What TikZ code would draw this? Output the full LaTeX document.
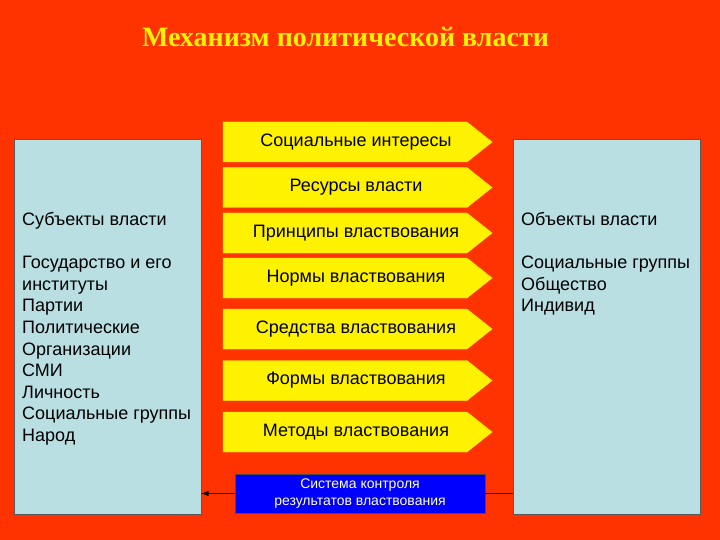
\documentclass[tikz,border=0pt]{standalone}
\usepackage{fontspec}
\setmainfont{Liberation Sans}
\newfontfamily\titlefont{Liberation Serif}
\usetikzlibrary{shapes.symbols}
\usetikzlibrary{arrows}
\usetikzlibrary{positioning}
\definecolor{bgred}{HTML}{FF3300}
\definecolor{panelblue}{HTML}{BADFE3}
\definecolor{ctrlblue}{HTML}{0000FF}
\definecolor{ctrltext}{HTML}{FFFFCC}

\begin{document}
\begin{tikzpicture}[x=1pt, y=-1pt,
    panel/.style={draw=black!65, fill=panelblue, minimum width=187pt, minimum height=375pt, inner sep=0pt},
    paneltext/.style={align=left, inner sep=0pt, anchor=north west, font=\fontsize{18}{21.6}\selectfont},
    stage/.style={signal, signal to=east, signal pointer angle=77, fill=yellow, draw=yellow, minimum width=269pt, minimum height=40pt, inner sep=0pt, font=\fontsize{18}{21.6}\selectfont, execute at begin node=\hspace*{22pt}},
    ctrl/.style={draw=black!70, fill=ctrlblue, text=ctrltext, align=center, minimum width=250pt, minimum height=39pt, inner sep=0pt, font=\fontsize{14}{16.8}\selectfont},
    title/.style={text=yellow, font=\titlefont\bfseries\fontsize{28}{33}\selectfont}
  ]
    \fill[bgred] (0,0) rectangle (720,540);
    \node[title] (head) at (345.5,37) {Механизм политической власти};

    \node[panel] (subj) at (107.5,326.5) {};
    \node[panel] (obj) at (606.5,326.5) {};
    \node[paneltext] (subjtext) at (22,212) {Субъекты власти\\[21.6pt]Государство и его\\институты\\Партии\\Политические\\Организации\\СМИ\\Личность\\Социальные группы\\Народ};
    \node[paneltext] (objtext) at (521,212) {Объекты власти\\[21.6pt]Социальные группы\\Общество\\Индивид};

    \node[stage] (interests) at (345,142) {Социальные интересы};
    \node[stage] (resources) at (345,187.5) {Ресурсы власти};
    \node[stage] (principles) at (345,233) {Принципы властвования};
    \node[stage] (norms) at (345,278) {Нормы властвования};
    \node[stage] (means) at (345,329) {Средства властвования};
    \node[stage] (forms) at (345,380.5) {Формы властвования};
    \node[stage] (methods) at (345,432) {Методы властвования};

    \node[ctrl] (control) at (360,493.5) {Система контроля\\результатов властвования};
    \draw[line width=1.5pt, -latex] (control.west) -- (control.west -| subj.east);
    \draw[line width=1.5pt] (obj.west |- control.east) -- (control.east);
  \end{tikzpicture}
\end{document}
